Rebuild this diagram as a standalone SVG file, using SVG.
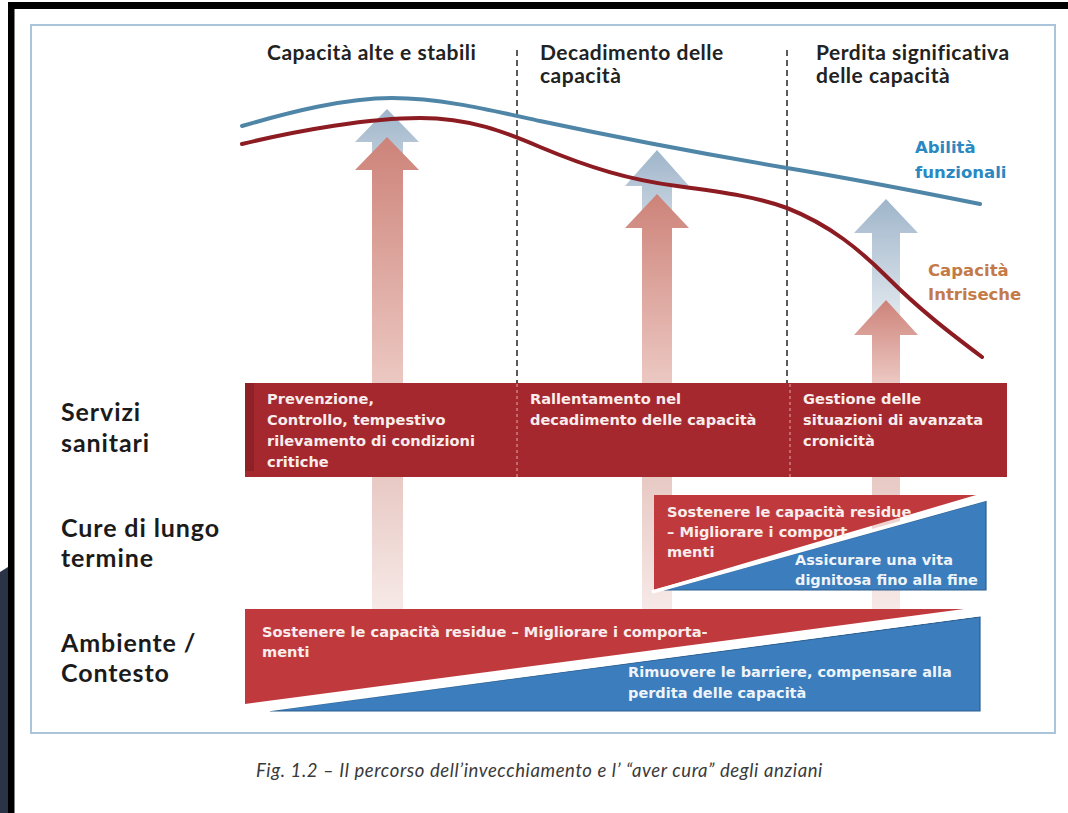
<svg xmlns="http://www.w3.org/2000/svg" width="1068" height="813" viewBox="0 0 1068 813">
<defs>
<linearGradient id="gRed" x1="0" y1="0" x2="0" y2="1">
<stop offset="0" stop-color="#cd8379"/>
<stop offset="1" stop-color="#ecc8c2"/>
</linearGradient>
<linearGradient id="gBlue" x1="0" y1="0" x2="0" y2="1">
<stop offset="0" stop-color="#9fb5ca"/>
<stop offset="1" stop-color="#e2e9ef"/>
</linearGradient>
<linearGradient id="gPale" x1="0" y1="0" x2="0" y2="1">
<stop offset="0" stop-color="#e8c9c4"/>
<stop offset="1" stop-color="#f6e9e7"/>
</linearGradient>
<style>
.title{font-family:Lato,"Liberation Sans",sans-serif;font-weight:700;font-size:21px;letter-spacing:0.5px;fill:#222}
.row{font-family:Lato,"Liberation Sans",sans-serif;font-weight:700;font-size:25px;letter-spacing:0.9px;fill:#1b1b1b}
.box{font-family:"DejaVu Sans","Liberation Sans",sans-serif;font-weight:700;font-size:14.6px;fill:#f8ecec}
.boxb{font-family:"DejaVu Sans","Liberation Sans",sans-serif;font-weight:700;font-size:14.5px;fill:#eef4fa}
.leg{font-family:"DejaVu Sans","Liberation Sans",sans-serif;font-weight:700;font-size:16.5px}
.cap{font-family:Lato,"Liberation Sans",sans-serif;font-style:italic;font-size:18.5px;letter-spacing:0.6px;fill:#3a3a3a}
.dash{stroke:#5a5a5a;stroke-width:2;stroke-dasharray:6 4;fill:none}
.dashin{stroke:#e7a9a9;stroke-width:1;stroke-dasharray:3 3;fill:none}
.curve{fill:none;stroke-width:4;stroke-linecap:round}
.red2{fill:#c03a3d}
.blue2{fill:#3b7dbd;stroke:#2c5f90;stroke-width:1.2}
.sep{stroke:#ffffff;stroke-width:3.5;fill:none}
</style>
</defs>
<rect x="0" y="0" width="1068" height="813" fill="#ffffff"/>
<rect x="8" y="2" width="1060" height="7" fill="#000"/>
<rect x="8" y="2" width="6.5" height="811" fill="#000"/>
<polygon points="0,572 8,567 8,813 0,813" fill="#2b3446"/>
<rect x="31" y="25" width="1024" height="708" fill="none" stroke="#a9c4db" stroke-width="2"/>

<g id="phase-titles">
<text class="title" x="267" y="60">Capacità alte e stabili</text>
<text class="title" x="540" y="60">Decadimento delle</text>
<text class="title" x="540" y="83">capacità</text>
<text class="title" x="816" y="60">Perdita significativa</text>
<text class="title" x="816" y="83">delle capacità</text>
</g>

<g id="connectors">
<line class="dash" x1="517" y1="50" x2="517" y2="383"/>
<line class="dash" x1="787" y1="50" x2="787" y2="383"/>
</g>

<g id="arrow-left">
<path d="M387,109 L419,142 L403,142 L403,220 L372,220 L372,142 L355,142 Z" fill="url(#gBlue)"/>
<path d="M387,137 L419,170 L403,170 L403,383 L372,383 L372,170 L355,170 Z" fill="url(#gRed)"/>
<rect x="372" y="477" width="31" height="132" fill="url(#gPale)"/>
</g>
<g id="arrow-middle">
<path d="M657,150 L689,186 L672,186 L672,260 L642,260 L642,186 L625,186 Z" fill="url(#gBlue)"/>
<path d="M657,194 L689,228 L672,228 L672,383 L642,383 L642,228 L625,228 Z" fill="url(#gRed)"/>
<rect x="642" y="477" width="30" height="132" fill="url(#gPale)"/>
</g>
<g id="arrow-right">
<path d="M886,199 L918,233 L900,233 L900,320 L872,320 L872,233 L854,233 Z" fill="url(#gBlue)"/>
<path d="M886,300 L918,335 L900,335 L900,383 L872,383 L872,335 L854,335 Z" fill="url(#gRed)"/>
<rect x="872" y="477" width="28" height="132" fill="url(#gPale)"/>
</g>

<g id="curve-abilita">
<path class="curve" stroke="#4f86a7" d="M242,126 C290,112 345,98 392,98 C440,98 490,110 540,121 C620,138 710,155 787,168 C860,180 920,192 980,204"/>
<text class="leg" fill="#2a88c2" x="915" y="153">Abilità</text>
<text class="leg" fill="#2a88c2" x="915" y="178">funzionali</text>
</g>
<g id="curve-capacita">
<path class="curve" stroke="#8c1b22" d="M242,144 C300,130 370,118 420,118 C470,118 505,132 540,147 C590,168 630,180 677,186 C730,193 760,198 787,208 C830,225 860,250 887,277 C920,310 950,333 982,357"/>
<text class="leg" fill="#c47a48" x="928" y="276">Capacità</text>
<text class="leg" fill="#c47a48" x="928" y="300">Intriseche</text>
</g>

<g id="row-labels">
<text class="row" x="61" y="421">Servizi</text>
<text class="row" x="61" y="452">sanitari</text>
<text class="row" x="61" y="537">Cure di lungo</text>
<text class="row" x="61" y="567">termine</text>
<text class="row" x="61" y="652">Ambiente /</text>
<text class="row" x="61" y="682">Contesto</text>
</g>

<g id="servizi-sanitari">
<rect x="245" y="383" width="762" height="94" fill="#a4282d"/>
<rect x="245" y="383" width="9" height="88" fill="#8d2126"/>
<line class="dashin" x1="517" y1="384" x2="517" y2="477"/>
<line class="dashin" x1="790" y1="384" x2="790" y2="477"/>
<text class="box" x="267" y="404">Prevenzione,</text>
<text class="box" x="267" y="425">Controllo, tempestivo</text>
<text class="box" x="267" y="446">rilevamento di condizioni</text>
<text class="box" x="267" y="467">critiche</text>
<text class="box" x="530" y="404">Rallentamento nel</text>
<text class="box" x="530" y="425">decadimento delle capacità</text>
<text class="box" x="803" y="404">Gestione delle</text>
<text class="box" x="803" y="425">situazioni di avanzata</text>
<text class="box" x="803" y="446">cronicità</text>
</g>

<g id="cure-lungo-termine">
<polygon class="red2" points="654,495 976,495 654,590"/>
<text class="box" x="667" y="517">Sostenere le capacità residue</text>
<text class="box" x="667" y="537">– Migliorare i comport</text>
<text class="box" x="667" y="557">menti</text>
<polygon class="blue2" points="664,590 986,501 986,590"/>
<line class="sep" x1="652" y1="592" x2="990" y2="498"/>
<text class="boxb" x="795" y="565">Assicurare una vita</text>
<text class="boxb" x="795" y="585">dignitosa fino alla fine</text>
</g>

<g id="ambiente-contesto">
<polygon class="red2" points="245,609 964,609 245,704"/>
<text class="box" x="262" y="637">Sostenere le capacità residue – Migliorare i comporta-</text>
<text class="box" x="262" y="657">menti</text>
<polygon class="blue2" points="270,711 980,617 980,711"/>
<line class="sep" x1="258" y1="711" x2="984" y2="614"/>
<text class="boxb" x="628" y="677">Rimuovere le barriere, compensare  alla</text>
<text class="boxb" x="628" y="698">perdita delle capacità</text>
</g>

<text class="cap" x="256" y="777">Fig. 1.2 – Il percorso dell’invecchiamento e l’ “aver cura” degli anziani</text>
</svg>
